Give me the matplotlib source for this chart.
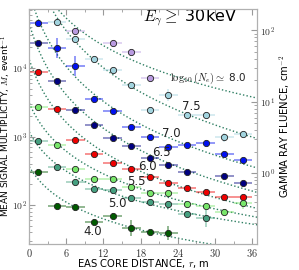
import numpy as np
import matplotlib
matplotlib.use("Agg")
import matplotlib.pyplot as plt
from matplotlib.ticker import FixedLocator, LogLocator, FuncFormatter, MultipleLocator, NullFormatter

plt.rcParams['font.family'] = ['DejaVu Sans']
plt.rcParams['mathtext.fontset'] = 'cm'

# core distance bins, m
r_bins = [1.5, 4.5, 7.5, 10.5, 13.5, 16.5, 19.5, 22.5, 25.5, 28.5, 31.5, 34.5]

# mean multiplicity per shower size, (M, relative error in dex)
r_80 = [7.5, 13.5, 16.5, 19.5]
m_80 = [34700, 22960, 16940, 7150]
e_80 = [0.04, 0.04, 0.05, 0.04]

r_75 = [4.5, 7.5, 10.5, 13.5, 16.5, 19.5, 22.5, 25.5, 28.5, 31.5, 34.5]
m_75 = [47000, 26500, 13400, 9350, 5580, 2400, 4040, 2060, 2060, 973, 1077]
e_75 = [0.04, 0.04, 0.04, 0.04, 0.04, 0.05, 0.085, 0.04, 0.04, 0.07, 0.04]

r_70 = r_bins
m_70 = [45800, 19800, 10700, 3490, 2380, 1390, 993, 710, 752, 817, 556, 454]
e_70 = [0.04, 0.146, 0.14, 0.05, 0.03, 0.03, 0.03, 0.03, 0.03, 0.03, 0.03, 0.03]

r_65 = [1.5, 4.5, 7.5, 10.5, 13.5, 16.5, 19.5, 22.5, 25.5, 31.5, 34.5]
m_65 = [22960, 6530, 2410, 1456, 960, 720, 485, 378, 300, 268, 207]
e_65 = [0.03] * 11

r_60 = r_bins
m_60 = [8740, 2500, 890, 556, 410, 332, 258, 207, 175, 153, 132, 132]
e_60 = [0.03] * 12

r_55 = r_bins
m_55 = [2720, 752, 332, 240, 237, 181, 150, 148, 102, 98, 80, 106]
e_55 = [0.03, 0.03, 0.03, 0.03, 0.03, 0.03, 0.03, 0.03, 0.03, 0.03, 0.04, 0.085]

r_50 = r_bins[:10]
m_50 = [851, 355, 214, 171, 166, 126, 111, 104, 73, 64]
e_50 = [0.03, 0.03, 0.03, 0.03, 0.03, 0.03, 0.03, 0.03, 0.04, 0.12]

r_40 = r_bins[:8]
m_40 = [306, 98, 94, 56.5, 69, 46, 40, 39]
e_40 = [0.04, 0.04, 0.04, 0.04, 0.04, 0.12, 0.04, 0.1]

series = [
    (r_80, m_80, e_80, '#b99be0'),
    (r_75, m_75, e_75, '#a2d4df'),
    (r_70, m_70, e_70, '#0010f0'),
    (r_65, m_65, e_65, '#000080'),
    (r_60, m_60, e_60, '#ee0000'),
    (r_55, m_55, e_55, '#78e66a'),
    (r_50, m_50, e_50, '#45a080'),
    (r_40, m_40, e_40, '#005a00'),
]

ne_labels = [r'$\log_{10}(N_e)\simeq$ 8.0', '7.5', '7.0', '6.5', '6.0', '5.5', '5.0', '4.0']
label_pos = [(0.785, 0.706), (0.711, 0.587), (0.623, 0.472), (0.579, 0.391),
             (0.518, 0.332), (0.469, 0.264), (0.386, 0.174), (0.281, 0.055)]

fig = plt.figure(figsize=(2.99, 2.70), dpi=100)
ax = fig.add_axes([0.097, 0.096, 0.763, 0.871])
ax.set_yscale('log')

r_line = np.linspace(0.05, 37, 200)
for r, m, e, col in series:
    r = np.array(r)
    m = np.array(m, dtype=float)
    e = np.array(e)
    # fit curve in log space
    coef = np.polyfit(np.log10(1 + r / 3.0), np.log10(m), 1)
    ax.plot(r_line, 10 ** np.polyval(coef, np.log10(1 + r_line / 3.0)),
            ls=(0, (1, 1.6)), lw=1.0, color='#2f7f63', zorder=1)
    yerr = [m - m * 10 ** (-e), m * 10 ** e - m]
    ax.errorbar(r, m, xerr=1.5, yerr=yerr, fmt='none', ecolor=col, alpha=0.5,
                elinewidth=1.2, zorder=2)
    ax.plot(r, m, 'o', ms=4.5, mfc=col, mec='#222222', mew=0.6, zorder=3)

for txt, (tx, ty) in zip(ne_labels, label_pos):
    ax.text(tx, ty, txt, transform=ax.transAxes, ha='center', va='center',
            fontsize=8.5 if len(txt) < 5 else 7.5, color='#222222')

ax.text(0.706, 0.962, r'$E_\gamma\geq$ 30keV', transform=ax.transAxes,
        ha='center', va='center', fontsize=11.5, color='black')

ax.set_xlim(0, 36.8)
ax.set_ylim(27, 72600)
ax.xaxis.set_major_locator(MultipleLocator(6))
ax.xaxis.set_minor_locator(MultipleLocator(3))
ax.xaxis.set_major_formatter(FuncFormatter(lambda v, p: f'${v:g}$'))
ax.yaxis.set_major_locator(FixedLocator([1e2, 1e3, 1e4]))
ax.yaxis.set_minor_locator(LogLocator(base=10, subs=np.arange(2, 10)))
ax.yaxis.set_minor_formatter(NullFormatter())
ax.yaxis.set_major_formatter(FuncFormatter(lambda v, p: f'$10^{{{int(round(np.log10(v)))}}}$'))
ax.tick_params(which='both', direction='in', top=True, colors='#999999',
               labelcolor='#333333', labelsize=7.5, pad=2)
ax.tick_params(axis='y', labelsize=7, pad=1.5)
ax.tick_params(which='major', length=4, width=0.8)
ax.tick_params(which='minor', length=2, width=0.6)

ax.set_xlabel(r'EAS CORE DISTANCE, $r$, m', fontsize=7.2)
ax.xaxis.set_label_coords(0.5, -0.057)
ax.set_ylabel(r'MEAN SIGNAL MULTIPLICITY, $M$, event$^{-1}$', fontsize=6.5)
ax.yaxis.set_label_coords(-0.071, 0.5)

ax2 = ax.twinx()
ax2.set_yscale('log')
ax2.set_ylim(0.102, 200)
ax2.yaxis.set_major_locator(FixedLocator([1, 10, 100]))
ax2.yaxis.set_minor_locator(LogLocator(base=10, subs=np.arange(2, 10)))
ax2.yaxis.set_minor_formatter(NullFormatter())
ax2.yaxis.set_major_formatter(FuncFormatter(lambda v, p: f'$10^{{{int(round(np.log10(v)))}}}$'))
ax2.tick_params(which='both', direction='in', colors='#999999',
                labelcolor='#333333', labelsize=7, pad=2)
ax2.tick_params(which='major', length=4, width=0.8)
ax2.tick_params(which='minor', length=2, width=0.6)
ax2.set_ylabel(r'GAMMA RAY FLUENCE, cm$^{-2}$', fontsize=7.2, labelpad=2)

for a in (ax, ax2):
    for s in a.spines.values():
        s.set_color('#b0b0b0')
        s.set_linewidth(0.8)

fig.savefig('out.png', dpi=100)
